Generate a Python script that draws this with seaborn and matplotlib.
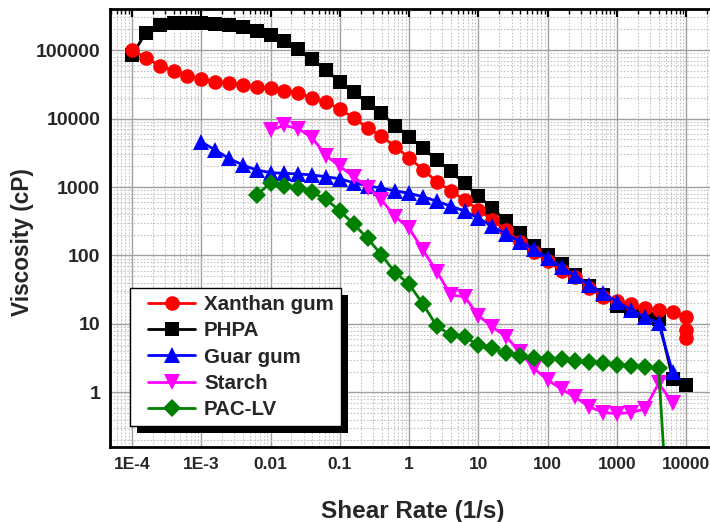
import matplotlib
matplotlib.use("Agg")
import matplotlib.pyplot as plt
import seaborn as sns
from matplotlib.ticker import FixedLocator, FixedFormatter, LogLocator, NullFormatter
from matplotlib.legend_handler import HandlerLine2D
from matplotlib.patches import Rectangle

# shear rate grid (1/s), 5 points per decade
shear = [1.00e-4, 1.58e-4, 2.51e-4, 3.98e-4, 6.31e-4,
         1.00e-3, 1.58e-3, 2.51e-3, 3.98e-3, 6.31e-3,
         0.0100, 0.0158, 0.0251, 0.0398, 0.0631,
         0.100, 0.158, 0.251, 0.398, 0.631,
         1.00, 1.58, 2.51, 3.98, 6.31,
         10.0, 15.8, 25.1, 39.8, 63.1,
         100, 158, 251, 398, 631,
         1000, 1585, 2512, 3981, 6310,
         10000]

# viscosity (cP)
xanthan = [100000, 77300, 59000, 49900, 42200, 37800, 34400, 32700, 30800, 28500,
           27500, 25200, 23300, 20100, 17600, 13600, 10300, 7300, 5500, 3900,
           2650, 1800, 1190, 880, 646, 461, 330, 232, 159, 114,
           82, 60, 49, 33, 25, 21.9, 19.6, 16.9, 16.0, 15.1,
           12.8, 8.2, 6.3]
xanthan_x = shear + [10000, 10000]

phpa = [83200, 179000, 232000, 251000, 251000, 251000, 240000, 232000, 214000, 191000,
        166000, 135000, 102000, 73100, 51000, 34400, 24600, 16800, 12000, 7780,
        5450, 3700, 2500, 1700, 1130, 730, 495, 315, 213, 138,
        100, 75, 52, 35.5, 26.3, 18.6, 15.5, 13.5, 12.0, 1.6,
        1.3]

guar = [4580, 3470, 2620, 2090, 1770,
        1620, 1585, 1550, 1500, 1410, 1320, 1150, 1050, 957, 880,
        809, 723, 620, 525, 446, 349, 270, 205, 160, 124,
        91, 68.5, 50, 37, 28, 21.2, 16, 12.8, 10.2, 2.0]
guar_x = shear[5:40]

starch = [6760, 7940, 7080, 5250, 2880, 2000, 1410, 977, 646, 369,
          249, 120, 58, 26.5, 25, 13.2, 9.1, 6.5, 3.9, 2.25,
          1.52, 1.12, 0.85, 0.62, 0.51, 0.49, 0.51, 0.575, 1.36, 0.71]
starch_x = shear[10:40]

pac = [764,
       1150, 1050, 977, 832, 661, 447, 288, 178, 102, 56,
       38, 19.5, 9.3, 6.9, 6.5, 4.9, 4.4, 3.8, 3.4, 3.2,
       3.1, 3.05, 2.9, 2.8, 2.67, 2.52, 2.44, 2.38, 2.25, 0.01]
pac_x = shear[9:39] + [5500]

x_ticks = [1e-4, 1e-3, 1e-2, 1e-1, 1, 10, 100, 1000, 10000]
x_tick_labels = ["1E-4", "1E-3", "0.01", "0.1", "1", "10", "100", "1000", "10000"]
y_ticks = [1, 10, 100, 1000, 10000, 100000]
y_tick_labels = ["1", "10", "100", "1000", "10000", "100000"]

sns.set_theme(style="white")
plt.rcParams["font.family"] = ["Liberation Sans", "DejaVu Sans"]
plt.rcParams["font.weight"] = "bold"

fig = plt.figure(figsize=(7.10, 5.22), dpi=100)
ax = fig.add_axes([110 / 710, 75 / 522, 610 / 710, 438 / 522])

series = [
    ("PHPA", shear, phpa, "black", "s", 9.5),
    ("Xanthan gum", xanthan_x, xanthan, "#ff0000", "o", 10.5),
    ("Guar gum", guar_x, guar, "#0000ff", "^", 11),
    ("Starch", starch_x, starch, "#ff00ff", "v", 11),
    ("PAC-LV", pac_x, pac, "#008000", "D", 9.5),
]
handles = {}
for name, xs, ys, col, mk, ms in series:
    sns.lineplot(x=xs, y=ys, ax=ax, color=col, marker=mk, markersize=ms,
                 markeredgewidth=0, linewidth=2.0, estimator=None, sort=False,
                 label=name)
    handles[name] = ax.lines[-1]

ax.set_xscale("log")
ax.set_yscale("log")
ax.set_xlim(10 ** -4.317, 10 ** 4.485)
ax.set_ylim(10 ** -0.796, 10 ** 5.599)

ax.xaxis.set_major_locator(FixedLocator(x_ticks))
ax.xaxis.set_major_formatter(FixedFormatter(x_tick_labels))
ax.yaxis.set_major_locator(FixedLocator(y_ticks))
ax.yaxis.set_major_formatter(FixedFormatter(y_tick_labels))
ax.xaxis.set_minor_locator(LogLocator(base=10, subs=range(2, 10), numticks=30))
ax.yaxis.set_minor_locator(LogLocator(base=10, subs=range(2, 10), numticks=30))
ax.xaxis.set_minor_formatter(NullFormatter())
ax.yaxis.set_minor_formatter(NullFormatter())

ax.grid(which="major", color="#a0a0a0", linewidth=1.0, linestyle="-")
ax.grid(which="minor", color="#c4c4c4", linewidth=0.8, linestyle=(0, (1.5, 1.5)))
ax.set_axisbelow(True)

ax.tick_params(which="both", direction="in", top=True, right=True, color="black")
ax.tick_params(which="major", length=6, width=1.5, pad=7)
ax.tick_params(which="minor", length=3.5, width=1.0)
ax.tick_params(axis="x", labelsize=12.5)
ax.tick_params(axis="y", labelsize=14)
for lab in ax.get_xticklabels() + ax.get_yticklabels():
    lab.set_fontweight("bold")
for sp in ax.spines.values():
    sp.set_color("black")
    sp.set_linewidth(2.0)

ax.set_xlabel("Shear Rate (1/s)", fontsize=17.5, fontweight="bold", va="top")
ax.set_ylabel("Viscosity (cP)", fontsize=16.3, fontweight="bold")
ax.xaxis.set_label_coords(0.4959, -0.121)
ax.yaxis.set_label_coords(-0.125, 0.468)

order = ["Xanthan gum", "PHPA", "Guar gum", "Starch", "PAC-LV"]
leg = ax.legend([handles[n] for n in order], order, loc="upper left",
                bbox_to_anchor=(20 / 610, 159 / 438), borderaxespad=0,
                frameon=True, fancybox=False, edgecolor="black", framealpha=1,
                prop={"size": 14.8, "weight": "bold"}, handlelength=2.81,
                handletextpad=0.44, labelspacing=0.35, borderpad=0.35,
                handler_map={h: HandlerLine2D(xpad=0.53) for h in handles.values()})
leg.get_frame().set_linewidth(1.0)
leg.set_zorder(6)

fig.canvas.draw()
bb = leg.get_window_extent()
inv = ax.transAxes.inverted()
(x0, y0) = inv.transform((bb.x0 + 7, bb.y0 - 7))
(x1, y1) = inv.transform((bb.x1 + 7, bb.y1 - 7))
ax.add_patch(Rectangle((x0, y0), x1 - x0, y1 - y0, transform=ax.transAxes,
                       facecolor="black", edgecolor="none", zorder=5, clip_on=False))

fig.savefig("out.png", dpi=100)
